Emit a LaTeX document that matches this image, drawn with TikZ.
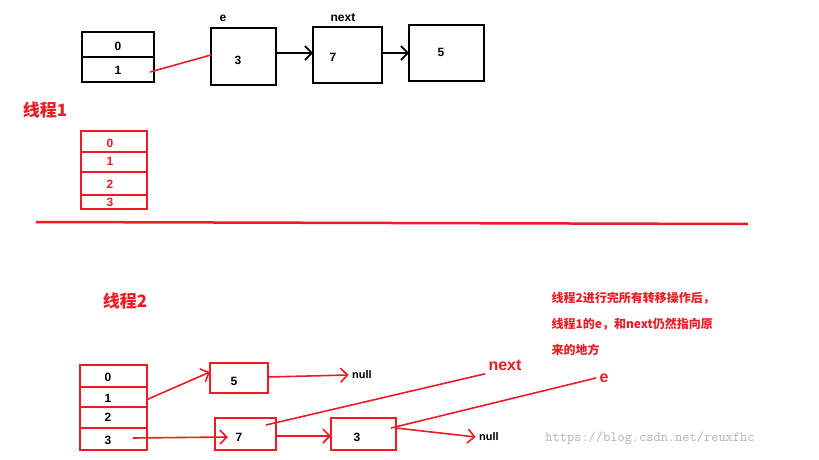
\documentclass[tikz,border=0pt]{standalone}
\usepackage{fontspec}
\setmainfont{Liberation Sans}
\newfontfamily\cjk{Noto Sans CJK SC}
\usetikzlibrary{arrows.meta}
\definecolor{hand}{RGB}{237,28,36}
\tikzset{
    blk/.style={draw=black, line width=2pt},
    rbox/.style={draw=hand, line width=2pt},
    num/.style={font=\bfseries\fontsize{12}{14}\selectfont},
    rnum/.style={font=\bfseries\fontsize{12}{14}\selectfont, text=hand},
    note/.style={font=\cjk\bfseries\fontsize{12}{14}\selectfont, text=hand, anchor=west},
    link/.style={hand, line width=1.6pt, -{Straight Barb[length=7pt]}},
    blink/.style={black, line width=1.6pt, -{Straight Barb[length=7pt]}},
}
\begin{document}
\begin{tikzpicture}[x=1pt, y=-1pt]
    \useasboundingbox (0,0) rectangle (819,460);
    % Top: original table and chain
    \draw[blk] (82,32) rectangle (154,82);
    \draw[blk] (82,57) -- (154,57);
    \node[num] (T0) at (118,46) {0};
    \node[num] (T1) at (118,70) {1};
    \coordinate (T1out) at (150,72);
    \draw[blk] (211,28) rectangle (276,85);
    \node[num] (E3) at (238,60) {3};
    \node[num] at (223,18) {e};
    \draw[blk] (313,27) rectangle (382,83);
    \node[num] (N7) at (333,57) {7};
    \node[num] at (343,18) {next};
    \draw[blk] (409,25) rectangle (484,81);
    \node[num] (F5) at (441,52) {5};
    \coordinate (Ein) at (211,55);
    \coordinate (Eout) at (276,53);
    \coordinate (Nin) at (313,53);
    \coordinate (Nout) at (382,53);
    \coordinate (Fin) at (409,53);
    \draw[hand, line width=1.6pt] (T1out) -- (Ein);
    \draw[blink] (Eout) -- (Nin);
    \draw[blink] (Nout) -- (Fin);
    % Thread 1
    \node[font=\cjk\bfseries\fontsize{17}{20}\selectfont, text=hand] (th1) at (45,110) {线程1};
    \draw[rbox] (81,131) rectangle (147,209);
    \foreach \y in {152,172,195} {
        \draw[hand, line width=2pt] (81,\y) -- (147,\y);
    }
    \foreach \t/\y in {0/143,1/161,2/184,3/202} {
        \node[rnum] (A\t) at (110,\y) {\t};
    }
    \draw[hand, line width=2.5pt] (36,222) -- (748,224);
    % Thread 2
    \node[font=\cjk\bfseries\fontsize{17}{20}\selectfont, text=hand] (th2) at (125,301) {线程2};
    \node[note] (note1) at (548,298) {线程2进行完所有转移操作后，};
    \node[note] (note2) at (548,324) {线程1的e，和next仍然指向原};
    \node[note] (note3) at (548,350) {来的地方};
    \draw[rbox] (80,365) rectangle (147,450);
    \foreach \y in {387,407,428} {
        \draw[hand, line width=2pt] (80,\y) -- (147,\y);
    }
    \foreach \t/\y in {0/377,1/398,2/417,3/440} {
        \node[num] (B\t) at (108,\y) {\t};
    }
    \draw[rbox] (210,363) rectangle (268,393);
    \node[num] (C5) at (234,381) {5};
    \draw[rbox] (215,418) rectangle (276,450);
    \node[num] (C7) at (239,437) {7};
    \draw[rbox] (331,418) rectangle (396,450);
    \node[num] (C3) at (357,437) {3};
    \node[num, font=\bfseries\fontsize{11}{13}\selectfont] (null1) at (362,375) {null};
    \node[num, font=\bfseries\fontsize{11}{13}\selectfont] (null2) at (489,437) {null};
    \node[rnum, font=\bfseries\fontsize{16}{18}\selectfont] (nx) at (505,365) {next};
    \node[rnum, font=\bfseries\fontsize{16}{18}\selectfont] (ee) at (604,378) {e};
    \coordinate (B1out) at (146,400);
    \coordinate (C5in) at (210,372);
    \coordinate (C5out) at (268,377);
    \coordinate (B3out) at (133,438);
    \coordinate (C7in) at (228,437);
    \coordinate (C7out) at (276,436);
    \coordinate (C3in) at (331,436);
    \coordinate (C3out) at (396,428);
    \draw[link] (B1out) -- (C5in);
    \draw[link] (C5out) -- (null1.west);
    \draw[link] (B3out) -- (C7in);
    \draw[link] (C7out) -- (C3in);
    \draw[link] (C3out) -- (null2.west);
    \draw[hand, line width=1.6pt] (266,425) -- (nx.south west);
    \draw[hand, line width=1.6pt] (391,428) -- (ee.west);
    % Watermark
    \node[text=gray!60, font=\ttfamily\fontsize{14}{16}\selectfont] (wm) at (650,438) {https://blog.csdn.net/reuxfhc};
\end{tikzpicture}
\end{document}
